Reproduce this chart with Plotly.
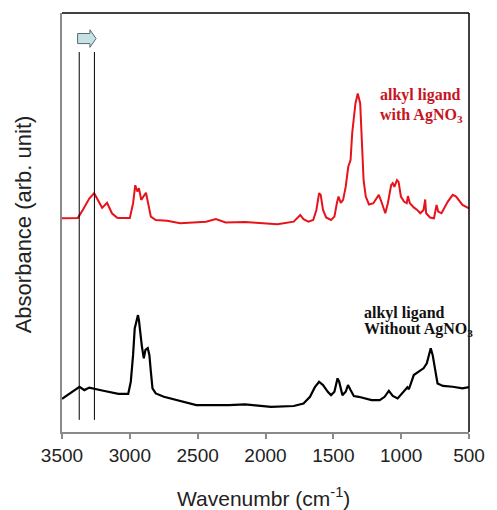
import plotly.graph_objects as go

# Red spectrum: alkyl ligand with AgNO3
red_wn = [3500, 3383, 3347, 3299, 3263, 3239, 3204, 3168, 3132, 3096, 3084, 3000, 2976, 2960,
          2945, 2933, 2916, 2881, 2845, 2809, 2725, 2629, 2438, 2366, 2294, 2151, 2000, 1912,
          1792, 1768, 1744, 1720, 1684, 1648, 1625, 1605, 1593, 1576, 1553, 1517, 1492, 1474,
          1462, 1445, 1428, 1409, 1390, 1373, 1361, 1337, 1320, 1302, 1286, 1277, 1261, 1237,
          1205, 1165, 1146, 1117, 1098, 1074, 1062, 1050, 1031, 1019, 1002, 979, 959, 950, 936,
          907, 882, 859, 835, 823, 816, 787, 758, 739, 727, 703, 656, 620, 595, 548, 500]
red_abs = [0.510, 0.511, 0.530, 0.557, 0.570, 0.557, 0.535, 0.547, 0.522, 0.512, 0.511, 0.511,
           0.546, 0.589, 0.574, 0.582, 0.554, 0.571, 0.514, 0.506, 0.504, 0.498, 0.502, 0.508,
           0.500, 0.501, 0.497, 0.496, 0.502, 0.510, 0.518, 0.508, 0.502, 0.506, 0.530, 0.570,
           0.566, 0.530, 0.512, 0.506, 0.514, 0.546, 0.562, 0.547, 0.554, 0.585, 0.633, 0.649,
           0.713, 0.784, 0.808, 0.784, 0.649, 0.601, 0.562, 0.543, 0.546, 0.566, 0.550, 0.522,
           0.546, 0.589, 0.594, 0.585, 0.601, 0.597, 0.562, 0.550, 0.546, 0.563, 0.546, 0.536,
           0.530, 0.522, 0.530, 0.555, 0.522, 0.512, 0.510, 0.542, 0.526, 0.522, 0.550, 0.566,
           0.562, 0.542, 0.534]

# Black spectrum: alkyl ligand without AgNO3
blk_wn = [3500, 3383, 3371, 3335, 3299, 3204, 3107, 3084, 3012, 2993, 2976, 2964, 2952, 2940,
          2933, 2924, 2911, 2897, 2885, 2868, 2856, 2845, 2833, 2809, 2749, 2510, 2270, 2151,
          1959, 1792, 1720, 1672, 1636, 1605, 1576, 1541, 1517, 1492, 1469, 1457, 1433, 1409,
          1392, 1373, 1349, 1313, 1266, 1218, 1158, 1122, 1091, 1062, 1026, 979, 954, 943, 907,
          871, 835, 811, 792, 782, 768, 751, 732, 692, 620, 548, 500]
blk_abs = [0.079, 0.104, 0.108, 0.100, 0.106, 0.099, 0.092, 0.091, 0.091, 0.120, 0.184, 0.247,
           0.263, 0.279, 0.267, 0.239, 0.204, 0.176, 0.196, 0.200, 0.184, 0.144, 0.104, 0.092,
           0.084, 0.064, 0.064, 0.066, 0.060, 0.062, 0.068, 0.084, 0.107, 0.120, 0.112, 0.096,
           0.088, 0.096, 0.128, 0.120, 0.088, 0.096, 0.112, 0.100, 0.086, 0.084, 0.080, 0.076,
           0.076, 0.084, 0.098, 0.086, 0.080, 0.096, 0.107, 0.102, 0.136, 0.144, 0.152, 0.164,
           0.188, 0.200, 0.184, 0.156, 0.116, 0.110, 0.108, 0.104, 0.107]

x_ticks = [3500, 3000, 2500, 2000, 1500, 1000, 500]
marker_wn = [3373, 3261]

fig = go.Figure()
fig.add_trace(go.Scatter(x=red_wn, y=red_abs, mode="lines",
                         line=dict(color="#e8121a", width=2), showlegend=False))
fig.add_trace(go.Scatter(x=blk_wn, y=blk_abs, mode="lines",
                         line=dict(color="#000000", width=2.2), showlegend=False))

shapes = []
for w in marker_wn:
    shapes.append(dict(type="line", xref="x", yref="y", x0=w, x1=w, y0=0.029, y1=0.907,
                       line=dict(color="black", width=1)))
# arrow pointing to lower wavenumber
xa0, xa1 = marker_wn[0] + 12, marker_wn[1] - 12
xh = xa1 + 45
yc = 0.939
path = (f"M {xa0},{yc+0.012} L {xh},{yc+0.012} L {xh},{yc+0.021} L {xa1},{yc} "
        f"L {xh},{yc-0.021} L {xh},{yc-0.012} L {xa0},{yc-0.012} Z")
shapes.append(dict(type="path", xref="x", yref="y", path=path,
                   fillcolor="#c6e2e6", line=dict(color="#5a6a6c", width=1)))
# top and right frame lines (black)
shapes.append(dict(type="line", xref="paper", yref="paper", x0=0, x1=1, y0=1, y1=1,
                   line=dict(color="black", width=1.5)))
shapes.append(dict(type="line", xref="paper", yref="paper", x0=1, x1=1, y0=0, y1=1,
                   line=dict(color="black", width=1.5)))

serif = "Liberation Serif, Times New Roman, serif"
ann = [
    dict(text="alkyl ligand", x=0.776, y=0.804, font=dict(color="#c8141e", size=16, family=serif)),
    dict(text="with AgNO<sub>3</sub>", x=0.776, y=0.755, font=dict(color="#c8141e", size=16, family=serif)),
    dict(text="alkyl ligand", x=0.738, y=0.284, font=dict(color="#111", size=16, family=serif)),
    dict(text="Without AgNO<sub>3</sub>", x=0.738, y=0.245, font=dict(color="#111", size=16, family=serif)),
]
annotations = []
for a in ann:
    annotations.append(dict(text="<b>" + a["text"] + "</b>", x=a["x"], y=a["y"], xref="paper",
                            yref="paper", xanchor="left", yanchor="middle", showarrow=False,
                            font=a["font"]))
annotations.append(dict(text="Absorbance (arb. unit)", x=-0.0955, y=0.496, xref="paper",
                        yref="paper", textangle=-90, showarrow=False, xanchor="center",
                        yanchor="middle", font=dict(size=22, color="#222",
                                                    family="Liberation Sans, Arial, sans-serif")))
annotations.append(dict(text="Wavenumbr (cm<sup>-1</sup>)", x=0.496, y=-0.155, xref="paper",
                        yref="paper", showarrow=False, xanchor="center", yanchor="middle",
                        font=dict(size=21, color="#222",
                                  family="Liberation Sans, Arial, sans-serif")))

fig.update_layout(
    width=497, height=510,
    margin=dict(l=62, r=16, t=13, b=78),
    paper_bgcolor="white", plot_bgcolor="white",
    shapes=shapes, annotations=annotations,
    xaxis=dict(range=[3500, 500], tickvals=x_ticks, ticktext=[str(v) for v in x_ticks],
               showgrid=False, zeroline=False, showline=True, linecolor="#8a8a8a",
               linewidth=2, ticks="outside", ticklen=5, tickcolor="#8a8a8a", tickwidth=1.5,
               tickfont=dict(size=19, color="#222",
                             family="Liberation Sans, Arial, sans-serif")),
    yaxis=dict(range=[0, 1], showgrid=False, zeroline=False, showline=True,
               linecolor="#8a8a8a", linewidth=2, showticklabels=False, ticks=""),
)

fig.write_html("out.html", config={"displayModeBar": False},
               post_script="document.body.style.margin='0';document.body.style.overflow='hidden';")
